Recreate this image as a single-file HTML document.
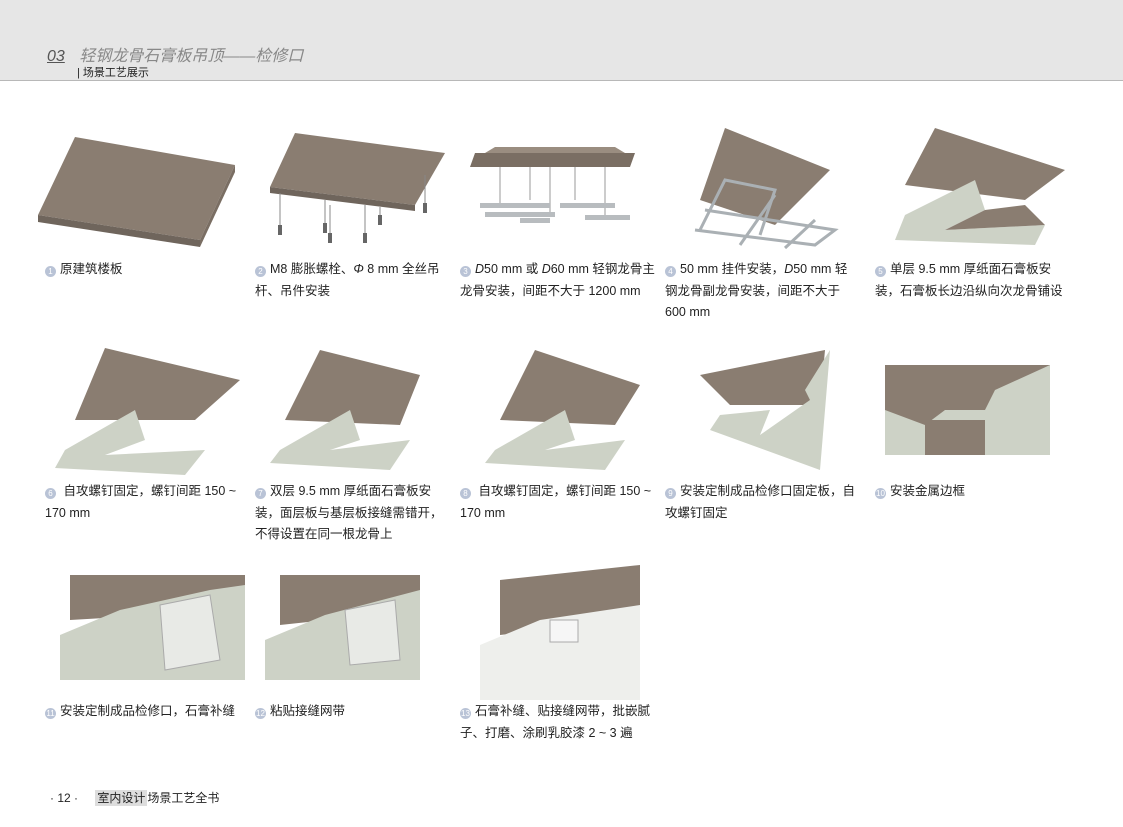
<!DOCTYPE html>
<html><head><meta charset="utf-8"><style>
body{margin:0;width:1123px;height:827px;background:#fff;position:relative;overflow:hidden;font-family:"Liberation Sans","Noto Sans CJK SC",sans-serif;color:#222}
.hd{position:absolute;left:0;top:0;width:1123px;height:80px;background:#e6e6e6;border-bottom:1px solid #b8b8b8}
.t1{position:absolute;left:47px;top:42px;font-size:16px;color:#888;font-style:italic}
.t1 u{color:#555;margin-right:10px}
.t2{position:absolute;left:77px;top:64px;font-size:11px;color:#222}
.l{position:absolute;font-size:12.5px;line-height:21.5px;width:192px;color:#222}
.n{display:inline-block;width:11px;height:11px;border-radius:50%;background:#b9c3d6;color:#fff;font-size:8px;line-height:11px;text-align:center;margin-right:4px;vertical-align:-1px}
svg{position:absolute}
.ft{position:absolute;top:789px;left:50px;font-size:12px}
.ft b{font-weight:normal;background:#ddd;padding:1px 2px;margin-left:14px}
</style></head><body>
<div class="hd"></div>
<div class="t1"><u>03</u> 轻钢龙骨石膏板吊顶——检修口</div>
<div class="t2">| 场景工艺展示</div>

<svg style="left:30px;top:115px" width="210" height="135"><polygon points="45,22 205,50 170,125 8,100" fill="#8a7d71"/><polygon points="8,100 170,125 170,132 8,107" fill="#6f655c"/><polygon points="170,125 205,50 205,57 170,132" fill="#7a6e63"/></svg>
<svg style="left:255px;top:115px" width="195" height="135"><polygon points="40,18 190,38 160,90 15,72" fill="#8a7d71"/><polygon points="15,72 160,90 160,96 15,78" fill="#6f655c"/><g stroke="#888" stroke-width="1"><line x1="25" y1="78" x2="25" y2="110"/><line x1="70" y1="85" x2="70" y2="115"/><line x1="75" y1="90" x2="75" y2="125"/><line x1="110" y1="90" x2="110" y2="120"/><line x1="125" y1="92" x2="125" y2="100"/><line x1="170" y1="60" x2="170" y2="88"/></g><g fill="#666"><rect x="23" y="110" width="4" height="10"/><rect x="68" y="108" width="4" height="10"/><rect x="73" y="118" width="4" height="10"/><rect x="108" y="118" width="4" height="10"/><rect x="123" y="100" width="4" height="10"/><rect x="168" y="88" width="4" height="10"/></g></svg>
<svg style="left:455px;top:115px" width="200" height="135"><polygon points="20,38 180,38 175,52 15,52" fill="#7a6e63"/><polygon points="30,38 170,38 160,32 40,32" fill="#9a8d80"/><g stroke="#999"><line x1="45" y1="52" x2="45" y2="90"/><line x1="75" y1="52" x2="75" y2="85"/><line x1="95" y1="52" x2="95" y2="100"/><line x1="120" y1="52" x2="120" y2="85"/><line x1="150" y1="52" x2="150" y2="100"/></g><g fill="#b8bcbf"><rect x="25" y="88" width="70" height="5"/><rect x="30" y="97" width="70" height="5"/><rect x="65" y="103" width="30" height="5"/><rect x="105" y="88" width="55" height="5"/><rect x="130" y="100" width="45" height="5"/></g></svg>
<svg style="left:665px;top:120px" width="195" height="130"><polygon points="60,8 165,50 110,105 35,80" fill="#8a7d71"/><g stroke="#aab0b4" stroke-width="3" fill="none"><polyline points="35,110 60,60 110,70 95,115"/><polyline points="40,90 170,110 150,125 30,110"/><line x1="110" y1="75" x2="75" y2="125"/><line x1="150" y1="100" x2="120" y2="128"/></g></svg>
<svg style="left:875px;top:120px" width="195" height="130"><polygon points="60,8 190,50 150,80 30,65" fill="#8a7d71"/><polygon points="30,95 100,60 110,90 70,110 170,105 160,125 20,120" fill="#cdd2c6"/><polygon points="70,110 110,90 150,85 170,105" fill="#8a7d71"/></svg>

<div class="l" style="left:45px;top:259px"><span class="n">1</span>原建筑楼板</div>
<div class="l" style="left:255px;top:259px"><span class="n">2</span>M8 膨胀螺栓、<i>Φ</i> 8 mm 全丝吊杆、吊件安装</div>
<div class="l" style="left:460px;top:259px;width:200px"><span class="n">3</span><i>D</i>50 mm 或 <i>D</i>60 mm 轻钢龙骨主龙骨安装，间距不大于 1200 mm</div>
<div class="l" style="left:665px;top:259px"><span class="n">4</span>50 mm 挂件安装，<i>D</i>50 mm 轻钢龙骨副龙骨安装，间距不大于 600 mm</div>
<div class="l" style="left:875px;top:259px"><span class="n">5</span>单层 9.5 mm 厚纸面石膏板安装，石膏板长边沿纵向次龙骨铺设</div>

<svg style="left:45px;top:340px" width="205" height="135"><polygon points="60,8 195,40 150,80 30,80" fill="#8a7d71"/><polygon points="20,110 90,70 100,100 60,115 160,110 140,135 10,128" fill="#cdd2c6"/></svg>
<svg style="left:260px;top:345px" width="195" height="130"><polygon points="60,5 160,30 140,80 25,75" fill="#8a7d71"/><polygon points="20,105 90,65 100,95 70,105 150,95 130,125 10,118" fill="#cdd2c6"/></svg>
<svg style="left:475px;top:345px" width="195" height="130"><polygon points="60,5 165,40 140,80 25,75" fill="#8a7d71"/><polygon points="20,105 90,65 100,95 70,105 150,95 130,125 10,118" fill="#cdd2c6"/></svg>
<svg style="left:690px;top:345px" width="190" height="125"><polygon points="10,30 135,5 130,60 40,60" fill="#8a7d71"/><polygon points="30,70 80,65 70,90 120,55 115,45 140,5 130,125 20,85" fill="#cdd2c6"/></svg>
<svg style="left:885px;top:365px" width="170" height="90"><rect width="165" height="90" fill="#8a7d71"/><polygon points="0,45 40,60 60,45 100,45 110,25 165,0 165,90 0,90" fill="#cdd2c6"/><rect x="40" y="55" width="60" height="35" fill="#8a7d71"/></svg>

<div class="l" style="left:45px;top:481px"><span class="n">6</span> 自攻螺钉固定，螺钉间距 150 ~ 170 mm</div>
<div class="l" style="left:255px;top:481px"><span class="n">7</span>双层 9.5 mm 厚纸面石膏板安装，面层板与基层板接缝需错开，不得设置在同一根龙骨上</div>
<div class="l" style="left:460px;top:481px"><span class="n">8</span> 自攻螺钉固定，螺钉间距 150 ~ 170 mm</div>
<div class="l" style="left:665px;top:481px"><span class="n">9</span>安装定制成品检修口固定板，自攻螺钉固定</div>
<div class="l" style="left:875px;top:481px"><span class="n">10</span>安装金属边框</div>

<svg style="left:60px;top:570px" width="190" height="110"><polygon points="10,5 185,5 185,40 10,50" fill="#8a7d71"/><polygon points="0,65 60,40 150,20 185,15 185,110 0,110" fill="#cdd2c6"/><polygon points="100,35 150,25 160,90 105,100" fill="#e8eae6" stroke="#aaa"/></svg>
<svg style="left:265px;top:570px" width="160" height="110"><polygon points="15,5 155,5 155,40 15,55" fill="#8a7d71"/><polygon points="0,70 60,45 155,20 155,110 0,110" fill="#cdd2c6"/><polygon points="80,40 130,30 135,90 85,95" fill="#e8eae6" stroke="#aaa"/></svg>
<svg style="left:480px;top:560px" width="170" height="140"><polygon points="20,20 160,5 160,60 20,75" fill="#8a7d71"/><polygon points="0,85 60,60 160,45 160,140 0,140" fill="#eeefec"/><rect x="70" y="60" width="28" height="22" fill="#f6f6f6" stroke="#aaa"/></svg>

<div class="l" style="left:45px;top:701px"><span class="n">11</span>安装定制成品检修口，石膏补缝</div>
<div class="l" style="left:255px;top:701px"><span class="n">12</span>粘贴接缝网带</div>
<div class="l" style="left:460px;top:701px"><span class="n">13</span>石膏补缝、贴接缝网带，批嵌腻子、打磨、涂刷乳胶漆 2 ~ 3 遍</div>

<div class="ft">· 12 · <b>室内设计</b>场景工艺全书</div>
</body></html>
